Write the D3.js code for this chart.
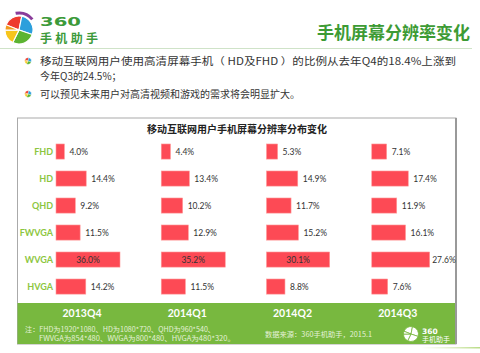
<!doctype html>
<html lang="zh">
<head>
<meta charset="utf-8">
<title>手机屏幕分辨率变化</title>
<script src="https://d3js.org/d3.v7.min.js"></script>
<style>
  body { margin: 0; padding: 0; background: #fff; }
  svg { display: block; font-family: "Noto Sans CJK SC", "Noto Sans", sans-serif; }
</style>
</head>
<body>
<script>
// categories and quarters
const categories = ["FHD", "HD", "QHD", "FWVGA", "WVGA", "HVGA"];
const quarters = ["2013Q4", "2014Q1", "2014Q2", "2014Q3"];

// share (%) per quarter, same order as categories
const q4_2013 = [4.0, 14.4, 9.2, 11.5, 36.0, 14.2];
const q1_2014 = [4.4, 13.4, 10.2, 12.9, 35.2, 11.5];
const q2_2014 = [5.3, 14.9, 11.7, 15.2, 30.1, 8.8];
const q3_2014 = [7.1, 17.4, 11.9, 16.1, 27.6, 7.6];
const series = [q4_2013, q1_2014, q2_2014, q3_2014];

const bullets = [
  ["移动互联网用户使用高清屏幕手机（ HD及FHD ）的比例从去年Q4的18.4%上涨到", "今年Q3的24.5%；"],
  ["可以预见未来用户对高清视频和游戏的需求将会明显扩大。"]
];
const notes = ["注：FHD为1920*1080、HD为1080*720、QHD为960*540、",
               "FWVGA为854*480、WVGA为800*480、HVGA为480*320。"];

const W = 480, H = 353;
const svg = d3.select("body").append("svg").attr("width", W).attr("height", H);

// ---- header logo ----
function ball(g, cx, cy, r, colors) {
  const arc = d3.arc().innerRadius(0).outerRadius(r);
  const parts = [
    { a0: -1.2, a1: 0.2, c: colors[0] },
    { a0: 0.2, a1: 1.9, c: colors[1] },
    { a0: 1.9, a1: 3.6, c: colors[2] },
    { a0: 3.6, a1: 4.7, c: colors[3] },
    { a0: 4.7, a1: 5.09, c: colors[4] }
  ];
  g.selectAll(null).data(parts).enter().append("path")
    .attr("transform", `translate(${cx},${cy})`)
    .attr("d", d => arc({ startAngle: d.a0, endAngle: d.a1 }))
    .attr("fill", d => d.c)
    .attr("stroke", "#fff").attr("stroke-width", r * 0.08);
}
const logo = svg.append("g");
ball(logo, 19, 30, 14, ["#ee3a2d", "#2c9fdc", "#5bb431", "#f7c51b", "#f39a1e"]);
logo.append("path")
  .attr("transform", "translate(19,30)")
  .attr("d", d3.arc().innerRadius(15.5).outerRadius(18.5)({ startAngle: -0.2, endAngle: 0.9 }))
  .attr("fill", "#8a3c9a");
logo.append("text").attr("x", 40).attr("y", 26)
  .attr("font-family", "DejaVu Sans, sans-serif").attr("font-weight", "bold")
  .attr("font-size", 12).attr("fill", "#3c9a3a").attr("textLength", 41)
  .attr("lengthAdjust", "spacingAndGlyphs")
  .text("360");
logo.append("text").attr("x", 40).attr("y", 43)
  .attr("font-size", 12).attr("font-weight", "bold").attr("fill", "#3c9a3a")
  .attr("textLength", 58).text("手机助手");

svg.append("text").attr("x", 470).attr("y", 39).attr("text-anchor", "end")
  .attr("font-size", 17).attr("font-weight", "bold").attr("fill", "#3d9b35")
  .text("手机屏幕分辨率变化");

svg.append("line").attr("x1", 0).attr("x2", 472).attr("y1", 48.5).attr("y2", 48.5)
  .attr("stroke", "#cfe3c8").attr("stroke-width", 1.2);

// ---- bullets ----
function bulletIcon(x, y) {
  const g = svg.append("g");
  ball(g, x, y, 3.3, ["#ee3a2d", "#2c9fdc", "#5bb431", "#f7c51b", "#f39a1e"]);
}
const lineY = [[65, 79.5], [98]];
bullets.forEach((lines, i) => {
  bulletIcon(28, lineY[i][0] - 4);
  lines.forEach((t, j) => {
    const tx = svg.append("text").attr("x", 40).attr("y", lineY[i][j])
      .attr("font-size", 10).attr("fill", "#333").text(t);
    if (i === 0 && j === 0) tx.attr("textLength", 416).attr("lengthAdjust", "spacingAndGlyphs");
  });
});

// ---- chart box ----
const box = { x0: 17.5, x1: 456, y0: 118, y1: 344 };
svg.append("rect").attr("x", box.x0).attr("y", box.y0)
  .attr("width", box.x1 - box.x0).attr("height", box.y1 - box.y0)
  .attr("fill", "#fff").attr("stroke", "#aaa").attr("stroke-width", 1);
svg.append("line").attr("x1", box.x1).attr("x2", box.x1).attr("y1", box.y0).attr("y2", box.y1)
  .attr("stroke", "#999").attr("stroke-width", 2);

svg.append("text").attr("x", 237).attr("y", 133).attr("text-anchor", "middle")
  .attr("font-size", 10).attr("font-weight", "bold").attr("fill", "#222")
  .text("移动互联网用户手机屏幕分辨率分布变化");

// scales
const y = d3.scaleBand().domain(categories).range([132.1, 306]).padding(0.44);
const xq = d3.scaleBand().domain(quarters).range([56, 477]);
const w = d3.scaleLinear().domain([0, 30.5]).range([0, 64]).clamp(true);

// category labels
svg.append("g").selectAll("text").data(categories).enter().append("text")
  .attr("x", 53).attr("y", d => y(d) + y.bandwidth() / 2 + 3.2)
  .attr("text-anchor", "end").attr("font-size", 9).attr("font-weight", "bold")
  .attr("font-family", "Lato, 'Open Sans', sans-serif")
  .attr("fill", "#8dc63f").text(d => d);

// bars
quarters.forEach((q, qi) => {
  const data = series[qi].map((v, i) => ({ cat: categories[i], v }));
  const g = svg.append("g");
  g.selectAll("rect").data(data).enter().append("rect")
    .attr("x", xq(q)).attr("y", d => y(d.cat))
    .attr("width", d => w(d.v)).attr("height", y.bandwidth())
    .attr("fill", "#fd4a55").attr("stroke", "#ff9a9a").attr("stroke-width", 0.6);
  g.selectAll("text").data(data).enter().append("text")
    .attr("x", d => d.v > 29 ? xq(q) + w(d.v) / 2 : xq(q) + w(d.v) + (d.v > 25 ? 2.5 : 5))
    .attr("y", d => y(d.cat) + y.bandwidth() / 2 + 3)
    .attr("text-anchor", d => d.v > 29 ? "middle" : "start")
    .attr("font-size", 8.5).attr("fill", "#333")
    .attr("font-family", "Lato, 'Open Sans', sans-serif")
    .text(d => d.v.toFixed(1) + "%");
});

// ---- green footer band ----
svg.append("rect").attr("x", box.x0).attr("y", 303)
  .attr("width", box.x1 - box.x0 - 1).attr("height", 41).attr("fill", "#78b83f");

svg.append("g").selectAll("text").data(quarters).enter().append("text")
  .attr("x", d => xq(d) + 26).attr("y", 316.5).attr("text-anchor", "middle")
  .attr("font-size", 10.5).attr("font-weight", "bold").attr("fill", "#fff")
  .attr("font-family", "Lato, 'Open Sans', sans-serif")
  .text(d => d);

svg.append("text").attr("x", 25).attr("y", 332).attr("font-size", 7)
  .attr("textLength", 190).attr("lengthAdjust", "spacingAndGlyphs")
  .attr("fill", "#e4f1d8").text(notes[0]);
svg.append("text").attr("x", 39).attr("y", 341).attr("font-size", 7)
  .attr("textLength", 196).attr("lengthAdjust", "spacingAndGlyphs")
  .attr("fill", "#e4f1d8").text(notes[1]);
svg.append("text").attr("x", 265).attr("y", 337).attr("font-size", 7.2)
  .attr("textLength", 107).attr("lengthAdjust", "spacingAndGlyphs")
  .attr("fill", "#e4f1d8").text("数据来源：360手机助手，2015.1");

// small footer logo
const flogo = svg.append("g");
ball(flogo, 411, 334, 7.5, ["#fff", "#fff", "#fff", "#fff", "#fff"]);
flogo.selectAll("path").attr("stroke", "#78b83f").attr("stroke-width", 0.8);
flogo.append("text").attr("x", 422).attr("y", 333.5).attr("font-size", 7.5)
  .attr("font-weight", "bold").attr("font-family", "DejaVu Sans, sans-serif")
  .attr("fill", "#fff").text("360");
flogo.append("text").attr("x", 422).attr("y", 342).attr("font-size", 7)
  .attr("fill", "#fff").text("手机助手");

// decorative fading line
const grad = svg.append("defs").append("linearGradient").attr("id", "fade");
grad.append("stop").attr("offset", "0%").attr("stop-color", "#cfe6a8").attr("stop-opacity", 0);
grad.append("stop").attr("offset", "100%").attr("stop-color", "#b9dc86");
svg.append("rect").attr("x", 420).attr("y", 347).attr("width", 60).attr("height", 1.5)
  .attr("fill", "url(#fade)");
</script>
</body>
</html>
